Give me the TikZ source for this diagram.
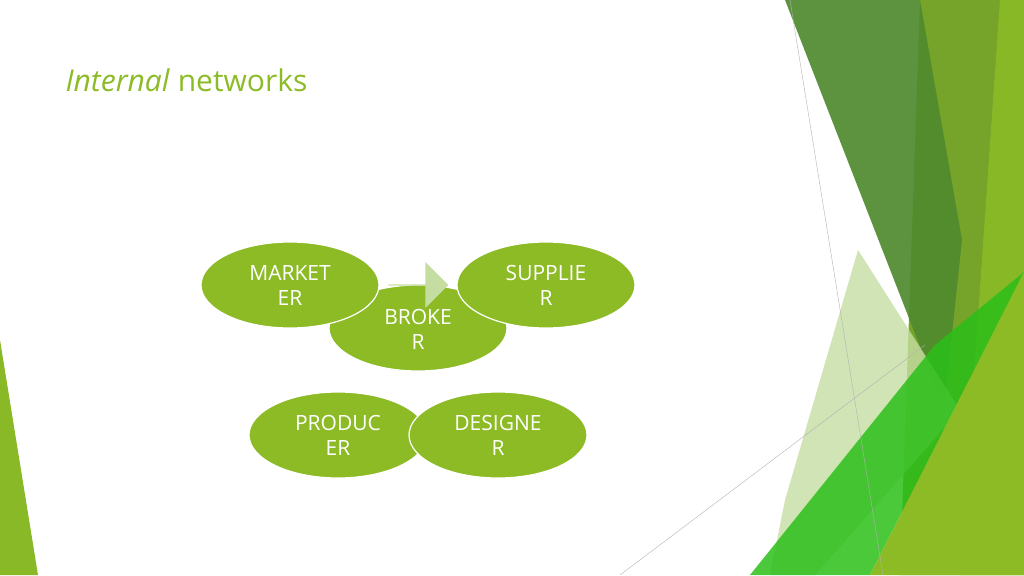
\documentclass[tikz,border=0pt]{standalone}
\usepackage{fontspec}
\setmainfont{Open Sans}
\usetikzlibrary{shapes.geometric,shapes.arrows,positioning}
\definecolor{leaf}{HTML}{8CBB26}
\definecolor{forest}{HTML}{4F8A2E}
\definecolor{moss}{HTML}{76A42A}
\definecolor{pale}{HTML}{C6DDA2}
\tikzset{
  blob/.style={ellipse,fill=leaf,draw=white,line width=1.2pt,minimum width=178pt,
    minimum height=86pt,inner sep=0pt,align=center,text=white,
    font=\fontsize{21}{25}\selectfont},
  thin/.style={draw=gray!60,line width=0.4pt}
}
\begin{document}
\begin{tikzpicture}[x=1pt,y=-1pt,line join=round]
\useasboundingbox (0,0) rectangle (1024,575);
% backdrop on the right
\fill[moss] (920,0) -- (1024,0) -- (1024,575) -- (900,575) -- cycle;
\fill[leaf!85!moss] (1000,0) -- (1024,0) -- (1024,575) -- (960,575) -- (975,360) -- cycle;
\fill[forest,opacity=0.92] (785,0) -- (920,0) -- (962,240) -- (945,400) -- (935,385) -- cycle;
\fill[pale,opacity=0.8] (785,500) -- (858,250) -- (960,410) -- (815,575) -- (770,575) -- cycle;
\fill[green!45!forest,opacity=0.85] (750,575) -- (935,345) -- (1024,272) -- (870,575) -- cycle;
\fill[leaf] (870,575) -- (1024,272) -- (1024,575) -- cycle;
\draw[thin] (790,0) -- (883,575);
\draw[thin] (620,575) -- (925,345);
% left strip
\fill[leaf!90!moss] (0,340) -- (38,575) -- (0,575) -- cycle;
% title
\node[anchor=west,text=leaf,font=\fontsize{30}{36}\selectfont] (title) at (62,80) {\textit{Internal} networks};
% network
\node[blob] (broker) at (418,328) {\\[-8pt]BROKE\\R};
\node[blob] (marketer) at (290,285) {MARKET\\ER};
\node[blob] (supplier) at (546,285) {SUPPLIE\\R};
\node[single arrow,fill=pale,minimum height=60pt,minimum width=46pt,
  single arrow head extend=8pt,inner sep=0pt] (link) at (418,285) {};
\node[blob] (producer) at (338,435) {PRODUC\\ER};
\node[blob] (designer) at (498,435) {DESIGNE\\R};
\end{tikzpicture}
\end{document}
